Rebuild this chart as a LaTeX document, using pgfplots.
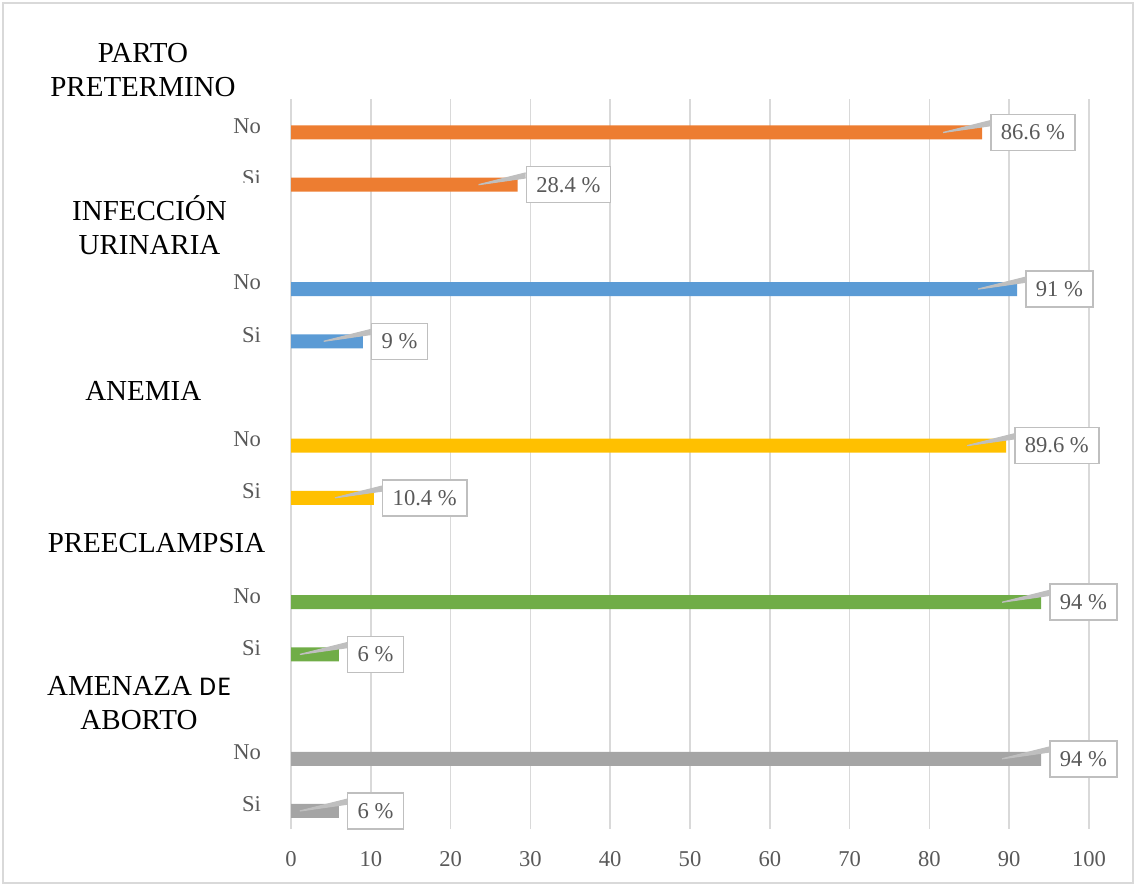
\documentclass[border=0pt]{standalone}
\usepackage{pgfplots}
\pgfplotsset{compat=1.18}
\usepackage{fontspec}
\setmainfont{Liberation Serif}
\newfontfamily\carlito{Carlito}
\definecolor{cOrange}{RGB}{237,125,49}
\definecolor{cBlue}{RGB}{91,155,213}
\definecolor{cYellow}{RGB}{255,192,0}
\definecolor{cGreen}{RGB}{112,173,71}
\definecolor{cGray}{RGB}{165,165,165}
\definecolor{gridc}{RGB}{217,217,217}
\definecolor{lblborder}{RGB}{191,191,191}
\definecolor{txt}{RGB}{89,89,89}
\begin{document}
\begin{tikzpicture}
\useasboundingbox (0,0) rectangle (569pt,443pt);
\draw[gridc, line width=0.75pt] (1.5pt,1.5pt) rectangle (566.5pt,441.5pt);
\begin{axis}[
  at={(145.5pt,28.5pt)}, anchor=south west,
  scale only axis, width=399pt, height=365pt,
  xmin=0, xmax=100, ymin=-0.345, ymax=13.642,
  clip=false,
  axis line style={draw=none},
  tick style={draw=none},
  xtick={0,10,...,100},
  xmajorgrids, grid style={color=gridc, line width=0.75pt},
  ytick={0,1,3,4,6,7,9,10,12,13},
  yticklabels={Si,No,Si,No,Si,No,Si,No,Si,No},
  /pgf/number format/assume math mode=true,
  x tick label style={font=\fontsize{11.3}{13}\selectfont, text=txt, yshift=-7.7pt},
  y tick label style={font=\fontsize{11.3}{13}\selectfont, text=txt, xshift=-7.2pt, yshift=3.25pt},
  xbar, bar width=7pt, bar shift=0pt,
  point meta=x,
  nodes near coords={\pgfmathprintnumber{\pgfplotspointmeta}\ \%},
  every node near coord/.append style={
    anchor=west, xshift=4pt, fill=white, draw=lblborder, line width=0.75pt,
    text=txt, font=\fontsize{11.3}{13}\selectfont, inner xsep=5pt, inner ysep=0pt,
    minimum height=18pt,
    append after command={\pgfextra{%
      \fill[white] ([yshift=-3.5pt]\tikzlastnode.north west) -- ([xshift=-23.5pt]\tikzlastnode.west) -- ([yshift=-6pt]\tikzlastnode.north west) -- cycle;
      \draw[lblborder, line width=0.6pt] ([yshift=-3.5pt]\tikzlastnode.north west) -- ([xshift=-23.5pt]\tikzlastnode.west) -- ([yshift=-6pt]\tikzlastnode.north west);}}
  },
]
\addplot[draw=none, fill=cOrange] coordinates {(86.6,13) (28.4,12)};
\addplot[draw=none, fill=cBlue] coordinates {(91,10) (9,9)};
\addplot[draw=none, fill=cYellow] coordinates {(89.6,7) (10.4,6)};
\addplot[draw=none, fill=cGreen] coordinates {(94,4) (6,3)};
\addplot[draw=none, fill=cGray] coordinates {(94,1) (6,0)};

\coordinate (iu) at (axis cs:-17.73,11.22);
\node[font=\fontsize{14.5}{17}\selectfont, align=center, text=black] at (axis cs:-18.55,14.20) {PARTO\\PRETERMINO};
\node[font=\fontsize{14.5}{17}\selectfont, align=center, text=black] at (axis cs:-18.51,8.05) {ANEMIA};
\node[font=\fontsize{14.5}{17}\selectfont, align=center, text=black] at (axis cs:-16.85,5.14) {PREECLAMPSIA};
\node[font=\fontsize{14.5}{17}\selectfont, align=center, text=black] at (axis cs:-19.05,2.06) {AMENAZA {\carlito\fontsize{13.5}{17}\selectfont D\kern0.8pt E}\\ABORTO};
\end{axis}
\node[font=\fontsize{14.5}{17}\selectfont, align=center, text=black, fill=white, minimum width=116pt, inner ysep=6.4pt] at (iu) {INFECCIÓN\\URINARIA};
\end{tikzpicture}
\end{document}
